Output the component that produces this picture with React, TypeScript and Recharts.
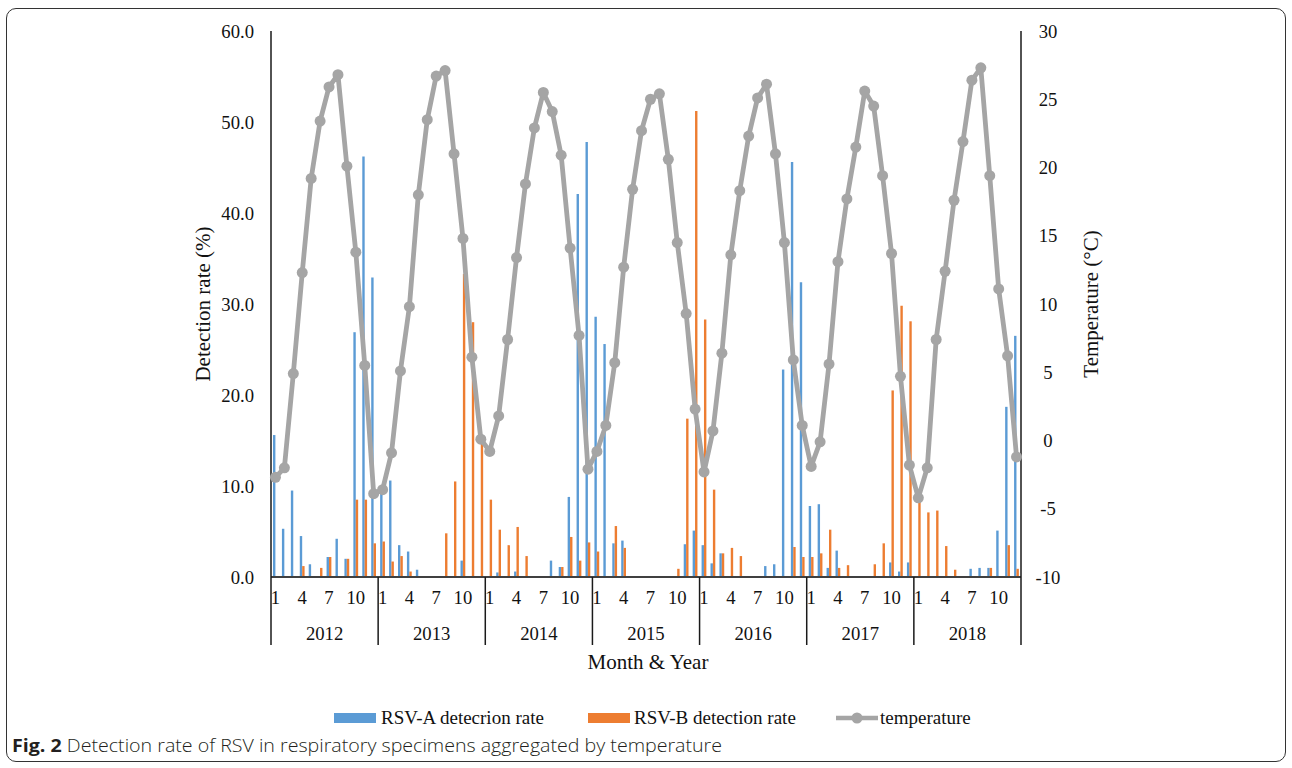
import { Bar, ComposedChart, Line, XAxis, YAxis } from "recharts";

const YEARS = [2012, 2013, 2014, 2015, 2016, 2017, 2018];
const MONTHS = [1, 2, 3, 4, 5, 6, 7, 8, 9, 10, 11, 12];
const SHOWN_MONTHS = [1, 4, 7, 10];

// detection rate (%), one value per month, Jan 2012 .. Dec 2018
const RSV_A = [
  15.6, 5.3, 9.5, 4.5, 1.4, 0, 2.2, 4.2, 2.0, 26.9, 46.2, 32.9,
  9.6, 10.6, 3.5, 2.8, 0.8, 0, 0, 0, 0, 1.8, 0, 0,
  0, 0.5, 0, 0.6, 0, 0, 0, 1.8, 1.1, 8.8, 42.1, 47.8,
  28.6, 25.6, 3.7, 4.0, 0, 0, 0, 0, 0, 0, 3.6, 5.1,
  3.5, 1.5, 2.6, 0, 0, 0, 0, 1.2, 1.4, 22.8, 45.6, 32.4,
  7.8, 8.0, 1.0, 2.9, 0, 0, 0, 0, 0, 1.6, 0.6, 1.6,
  0, 0, 0, 0, 0, 0, 0.9, 1.0, 1.0, 5.1, 18.7, 26.5,
];
const RSV_B = [
  0, 0, 0, 1.2, 0, 1.0, 2.2, 0, 2.0, 8.5, 8.5, 3.7,
  3.9, 1.7, 2.3, 0.6, 0, 0, 0, 4.8, 10.5, 33.3, 28.0, 15.0,
  8.5, 5.2, 3.5, 5.5, 2.3, 0, 0, 0, 1.1, 4.4, 1.8, 3.8,
  2.8, 0, 5.6, 3.2, 0, 0, 0, 0, 0, 0.9, 17.4, 51.2,
  28.3, 9.6, 2.6, 3.2, 2.3, 0, 0, 0, 0, 0, 3.3, 2.2,
  2.2, 2.6, 5.2, 1.0, 1.3, 0, 0, 1.4, 3.7, 20.5, 29.8, 28.1,
  8.6, 7.1, 7.3, 3.4, 0.8, 0, 0, 0, 1.0, 0, 3.5, 0.9,
];
// monthly mean temperature (°C)
const TEMPERATURE = [
  -2.7, -2.0, 4.9, 12.3, 19.2, 23.4, 25.9, 26.8, 20.1, 13.8, 5.5, -3.9,
  -3.6, -0.9, 5.1, 9.8, 18.0, 23.5, 26.7, 27.1, 21.0, 14.8, 6.1, 0.1,
  -0.8, 1.8, 7.4, 13.4, 18.8, 22.9, 25.5, 24.1, 20.9, 14.1, 7.7, -2.1,
  -0.8, 1.1, 5.7, 12.7, 18.4, 22.7, 25.0, 25.4, 20.6, 14.5, 9.3, 2.3,
  -2.3, 0.7, 6.4, 13.6, 18.3, 22.3, 25.1, 26.1, 21.0, 14.5, 5.9, 1.1,
  -1.9, -0.1, 5.6, 13.1, 17.7, 21.5, 25.6, 24.5, 19.4, 13.7, 4.7, -1.8,
  -4.2, -2.0, 7.4, 12.4, 17.6, 21.9, 26.4, 27.3, 19.4, 11.1, 6.2, -1.2,
];

const RATE_TICKS = [0, 10, 20, 30, 40, 50, 60];
const TEMP_TICKS = [-10, -5, 0, 5, 10, 15, 20, 25, 30];

const data = YEARS.flatMap((year, y) =>
  MONTHS.map((month, m) => {
    const i = y * 12 + m;
    return {
      key: `${year}-${month}`,
      year,
      month,
      rsvA: RSV_A[i],
      rsvB: RSV_B[i],
      temp: TEMPERATURE[i],
    };
  })
);

const W = 1292;
const H = 768;
const PLOT_LEFT = 271;
const PLOT_RIGHT = 1021;
const PLOT_TOP = 31;
const PLOT_BOTTOM = 577;
const HALF_BAND = (PLOT_RIGHT - PLOT_LEFT) / data.length / 2;

const BLUE = "#5B9BD5";
const ORANGE = "#ED7D31";
const GREY = "#A5A5A5";
const AXIS = "#1a1a1a";
const SERIF = "'Liberation Serif', 'Times New Roman', serif";
const TEXT = "#111";

function MonthYearTick(props: any) {
  const { x, y, index } = props;
  const d = data[index];
  if (!d) return null;
  return (
    <g>
      {SHOWN_MONTHS.includes(d.month) && (
        <text x={x} y={y + 27} textAnchor="middle" fontFamily={SERIF} fontSize={18.7} fill={TEXT}>
          {d.month}
        </text>
      )}
      {d.month === 6 && (
        <text x={x + HALF_BAND} y={y + 63} textAnchor="middle" fontFamily={SERIF} fontSize={18.7} fill={TEXT}>
          {d.year}
        </text>
      )}
      {d.month === 1 && (
        <line x1={x - HALF_BAND} x2={x - HALF_BAND} y1={y} y2={y + 68} stroke={AXIS} strokeWidth={1.5} />
      )}
      {index === data.length - 1 && (
        <line x1={x + HALF_BAND} x2={x + HALF_BAND} y1={y} y2={y + 68} stroke={AXIS} strokeWidth={1.5} />
      )}
    </g>
  );
}

function RateTick(props: any) {
  const { x, y, payload } = props;
  return (
    <text x={x - 17} y={y} dy="0.36em" textAnchor="end" fontFamily={SERIF} fontSize={18.7} fill={TEXT}>
      {Number(payload.value).toFixed(1)}
    </text>
  );
}

function TempTick(props: any) {
  const { x, y, payload } = props;
  return (
    <text x={x + 27} y={y} dy="0.36em" textAnchor="middle" fontFamily={SERIF} fontSize={18.7} fill={TEXT}>
      {payload.value}
    </text>
  );
}

export default function App() {
  return (
    <div style={{ position: "absolute", left: 0, top: 0, width: W, height: H, background: "#fff" }}>
      <div
        style={{
          position: "absolute",
          left: 6,
          top: 8,
          width: 1280,
          height: 754,
          border: "1.5px solid #333",
          borderRadius: 10,
          boxSizing: "border-box",
        }}
      />
      <ComposedChart
        width={W}
        height={H}
        data={data}
        margin={{ top: PLOT_TOP, right: 0, bottom: 0, left: 0 }}
        barSize={2.4}
        barGap={0}
        style={{ position: "absolute", left: 0, top: 0 }}
      >
        <XAxis
          dataKey="key"
          interval={0}
          height={H - PLOT_BOTTOM}
          tickLine={false}
          tickSize={0}
          tickMargin={0}
          axisLine={{ stroke: "#404040", strokeWidth: 2 }}
          tick={<MonthYearTick />}
        />
        <YAxis
          yAxisId="left"
          orientation="left"
          width={PLOT_LEFT}
          domain={[0, 60]}
          ticks={RATE_TICKS}
          tickLine={false}
          tickSize={0}
          tickMargin={0}
          axisLine={{ stroke: AXIS, strokeWidth: 1.5 }}
          tick={<RateTick />}
        />
        <YAxis
          yAxisId="right"
          orientation="right"
          width={W - PLOT_RIGHT}
          domain={[-10, 30]}
          ticks={TEMP_TICKS}
          tickLine={false}
          tickSize={0}
          tickMargin={0}
          axisLine={{ stroke: AXIS, strokeWidth: 1.5 }}
          tick={<TempTick />}
        />
        <Bar yAxisId="left" dataKey="rsvA" fill={BLUE} isAnimationActive={false} />
        <Bar yAxisId="left" dataKey="rsvB" fill={ORANGE} isAnimationActive={false} />
        <Line
          yAxisId="right"
          dataKey="temp"
          stroke={GREY}
          strokeWidth={4.8}
          strokeLinejoin="round"
          dot={{ r: 5.5, fill: GREY, stroke: GREY, strokeWidth: 0 }}
          activeDot={false}
          isAnimationActive={false}
        />
      </ComposedChart>
      <svg
        width={W}
        height={H}
        style={{ position: "absolute", left: 0, top: 0, pointerEvents: "none" }}
      >
        <text
          transform="translate(210 304) rotate(-90)"
          textAnchor="middle"
          fontFamily={SERIF}
          fontSize={21}
          fill={TEXT}
        >
          Detection rate (%)
        </text>
        <text
          transform="translate(1098 304) rotate(-90)"
          textAnchor="middle"
          fontFamily={SERIF}
          fontSize={21}
          fill={TEXT}
        >
          Temperature (°C)
        </text>
        <text x={648} y={669} textAnchor="middle" fontFamily={SERIF} fontSize={21} fill={TEXT}>
          Month &amp; Year
        </text>

        <rect x={334} y={713} width={42} height={10} fill={BLUE} />
        <text x={381} y={724} fontFamily={SERIF} fontSize={19} fill={TEXT}>
          RSV-A detecrion rate
        </text>
        <rect x={588} y={713} width={42} height={10} fill={ORANGE} />
        <text x={634} y={724} fontFamily={SERIF} fontSize={19} fill={TEXT}>
          RSV-B detection rate
        </text>
        <line x1={836} x2={878} y1={718} y2={718} stroke={GREY} strokeWidth={4.5} />
        <circle cx={857} cy={718} r={5.5} fill={GREY} />
        <text x={880} y={724} fontFamily={SERIF} fontSize={19} fill={TEXT}>
          temperature
        </text>

        <text
          x={12}
          y={752}
          fontFamily="'Open Sans', sans-serif"
          fontSize={18}
          fill="#231f20"
          textLength={710}
          lengthAdjust="spacingAndGlyphs"
        >
          <tspan fontWeight={700}>Fig. 2</tspan>
          <tspan fontWeight={300}> Detection rate of RSV in respiratory specimens aggregated by temperature</tspan>
        </text>
      </svg>
    </div>
  );
}
